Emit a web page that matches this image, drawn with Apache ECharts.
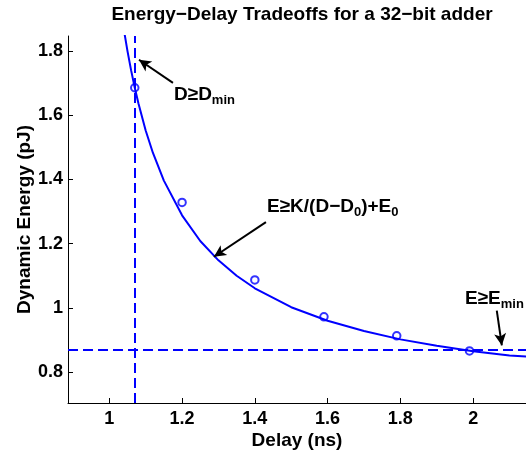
<!DOCTYPE html>
<html><head><meta charset="utf-8">
<script src="https://cdn.jsdelivr.net/npm/echarts@6/dist/echarts.min.js"></script>
<style>html,body{margin:0;padding:0;background:#fff}#c{width:526px;height:455px}</style>
</head><body><div id="c"></div>
<script>
// ---- data ----
const delayMeasured  = [1.07, 1.20, 1.40, 1.59, 1.79, 1.99];
const energyMeasured = [1.685, 1.328, 1.087, 0.972, 0.913, 0.866];
const fitDelay  = [1.035, 1.04, 1.05, 1.06, 1.07, 1.08, 1.10, 1.12, 1.15, 1.20, 1.25, 1.30, 1.35, 1.40, 1.50, 1.60, 1.70, 1.80, 1.90, 2.00, 2.10, 2.15];
const fitEnergy = [1.903, 1.866, 1.799, 1.739, 1.685, 1.637, 1.552, 1.482, 1.396, 1.288, 1.208, 1.148, 1.100, 1.061, 1.002, 0.960, 0.928, 0.902, 0.882, 0.865, 0.852, 0.848];
const dMin = 1.07;
const eMin = 0.867;
const xTicks = [1, 1.2, 1.4, 1.6, 1.8, 2];
const yTicks = [0.8, 1, 1.2, 1.4, 1.6, 1.8];
const titleText = 'Energy\u2212Delay Tradeoffs for a 32\u2212bit adder';
const xName = 'Delay (ns)';
const yName = 'Dynamic Energy (pJ)';
const annotationArrows = [
  [[1.175, 1.700], [1.0816, 1.772]],
  [[1.4305, 1.267], [1.2876, 1.159]],
  [[2.065, 0.9915], [2.0789, 0.883]]
];

const FONT = '"Liberation Sans", Arial, Helvetica, sans-serif';
const BLUE = '#0000ff';
const chart = echarts.init(document.getElementById('c'), null, {renderer: 'canvas'});

const fitData = fitDelay.map((d, i) => [d, fitEnergy[i]]);
const ptData = delayMeasured.map((d, i) => [d, energyMeasured[i]]);

const rich = {
  a: {fontSize: 19, fontWeight: 'bold', fontFamily: FONT, fill: '#000', lineHeight: 22, verticalAlign: 'top'},
  s: {fontSize: 13, fontWeight: 'bold', fontFamily: FONT, fill: '#000', lineHeight: 14, verticalAlign: 'bottom', padding: [15, 0, 0, 0]}
};
function label(text, left, top) {
  return {type: 'text', left: left, top: top, z: 100, style: {text: text, rich: rich, font: 'bold 19px ' + FONT, fill: '#000'}};
}

const axisText = {fontSize: 18, fontWeight: 'bold', color: '#000', fontFamily: FONT};
const nameText = {fontSize: 19, fontWeight: 'bold', color: '#000', fontFamily: FONT};

chart.setOption({
  animation: false,
  backgroundColor: '#fff',
  title: {
    text: titleText, left: 302, top: 5, textAlign: 'center', padding: 0,
    textStyle: {fontSize: 19, fontWeight: 'bold', color: '#000', fontFamily: FONT}
  },
  grid: {left: 68, right: 0, top: 36, bottom: 50, containLabel: false},
  xAxis: {
    type: 'value', min: 0.8865, max: 2.1453,
    axisLine: {show: true, onZero: false, lineStyle: {color: '#000', width: 1}},
    axisTick: {show: true, inside: true, length: 5, customValues: xTicks, lineStyle: {color: '#000'}},
    axisLabel: Object.assign({customValues: xTicks, margin: 7}, axisText),
    splitLine: {show: false},
    name: xName, nameLocation: 'middle', nameGap: 28, nameMoveOverlap: false,
    nameTextStyle: nameText
  },
  yAxis: {
    type: 'value', min: 0.704, max: 1.846,
    axisLine: {show: true, onZero: false, lineStyle: {color: '#000', width: 1}},
    axisTick: {show: true, inside: true, length: 5, customValues: yTicks, lineStyle: {color: '#000'}},
    axisLabel: Object.assign({customValues: yTicks, margin: 5}, axisText),
    splitLine: {show: false},
    name: yName, nameLocation: 'middle', nameGap: 34, nameRotate: 90, nameMoveOverlap: false,
    nameTextStyle: nameText
  },
  series: [
    {
      type: 'line', data: fitData, showSymbol: false, symbol: 'none', clip: true,
      lineStyle: {color: BLUE, width: 2}, z: 3,
      markLine: {
        silent: true, symbol: ['none', 'none'], animation: false,
        label: {show: false},
        lineStyle: {color: BLUE, width: 2, type: [10, 5]},
        data: [{xAxis: dMin}, {yAxis: eMin}]
      }
    },
    {
      type: 'scatter', data: ptData, symbol: 'circle', symbolSize: 7.5, z: 5,
      itemStyle: {color: 'rgba(0,0,0,0)', borderColor: BLUE, borderWidth: 2},
      markLine: {
        silent: true, symbol: ['none', 'arrow'], symbolSize: [9, 12], animation: false,
        label: {show: false},
        lineStyle: {color: '#000', width: 2, type: 'solid'},
        data: annotationArrows.map(a => [{coord: a[0]}, {coord: a[1]}])
      }
    }
  ],
  graphic: [
    label('{a|D\u2265D}{s|min}', 174, 79),
    label('{a|E\u2265K/(D\u2212D}{s|0}{a|)+E}{s|0}', 267, 191),
    label('{a|E\u2265E}{s|min}', 465, 283)
  ]
});
</script>
</body></html>
